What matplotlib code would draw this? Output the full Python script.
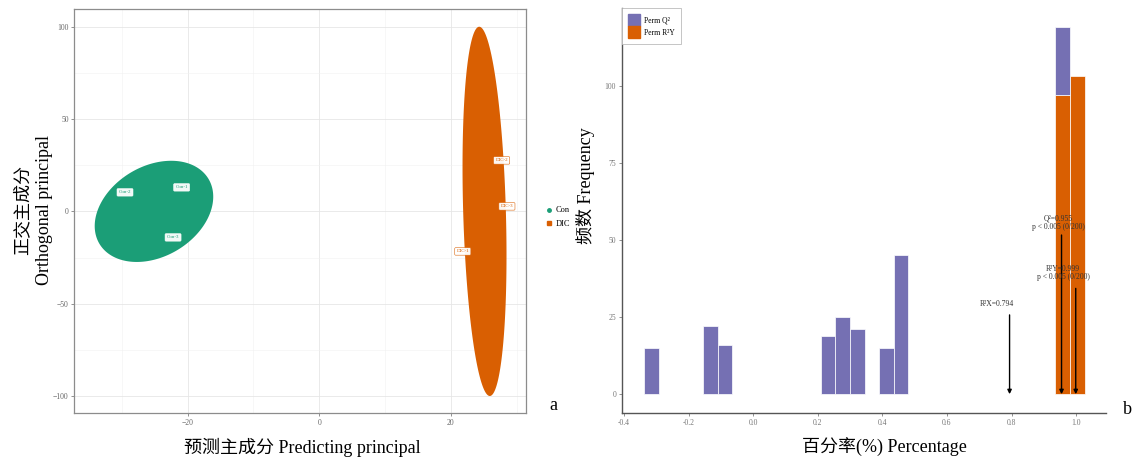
import numpy as np
import matplotlib
matplotlib.use("Agg")
import matplotlib.pyplot as plt
from matplotlib.patches import Patch
from matplotlib.lines import Line2D

plt.rcParams['font.family'] = ['Liberation Serif', 'Noto Sans CJK SC', 'DejaVu Sans']

# ---------------- data ----------------
groups = ["Con", "DIC"]
group_colors = ["#1B9E77", "#D95F02"]
ell_cx = [-25.1, 25.1]
ell_cy = [0.0, 0.0]
ell_ax = [9.0, 3.34]
ell_ay = [27.4, 100.0]
ell_rho = [0.29, -0.24]

sample_names = ["Con-1", "Con-2", "Con-3", "DIC-1", "DIC-2", "DIC-3"]
sample_group = [0, 0, 0, 1, 1, 1]
sample_x = [-20.9, -29.5, -22.2, 21.8, 27.7, 28.5]
sample_y = [13.0, 10.3, -14.1, -21.7, 27.6, 2.7]

left_xticks = [-20, 0, 20]
left_yticks = [-100, -50, 0, 50, 100]

bin_width = 0.0455
q2_centers = [-0.315, -0.133, -0.088, 0.231, 0.276, 0.322, 0.413, 0.458, 0.959]
q2_counts = [15, 22, 16, 19, 25, 21, 15, 45, 22]
r2y_centers = [0.959, 1.004]
r2y_counts = [97, 103]

arrow_x = [0.794, 0.955, 0.999]
arrow_top = [25.7, 51.6, 34.3]
arrow_labels = ["R\u00b2X=0.794", "Q\u00b2=0.955\np < 0.005 (0/200)", "R\u00b2Y=0.999\np < 0.005 (0/200)"]
arrow_label_x = [0.755, 0.946, 0.96]
arrow_label_y = [29.3, 55.5, 39.3]

right_xticks = [-0.4, -0.2, 0.0, 0.2, 0.4, 0.6, 0.8, 1.0]
right_yticks = [0, 25, 50, 75, 100]

purple = "#7570B3"

# ---------------- figure ----------------
W, H = 1135, 459
fig = plt.figure(figsize=(W / 100, H / 100), dpi=100)

def px_axes(x0, y0, x1, y1):
    return fig.add_axes([x0 / W, 1 - y1 / H, (x1 - x0) / W, (y1 - y0) / H])

# ---- left panel ----
ax1 = px_axes(74.3, 9, 526, 413)
ax1.set_xlim(-37.2, 31.4)
ax1.set_ylim(-109.2, 109.6)
ax1.set_xticks(left_xticks)
ax1.set_yticks(left_yticks)
ax1.set_xticks([-30, -10, 10, 30], minor=True)
ax1.set_yticks([-75, -25, 25, 75], minor=True)
ax1.grid(which='major', color='#e6e6e6', lw=0.6)
ax1.grid(which='minor', color='#f1f1f1', lw=0.4)
ax1.set_axisbelow(True)
for s in ax1.spines.values():
    s.set_color('#8c8c8c')
    s.set_linewidth(0.9)
ax1.tick_params(which='major', length=2, width=0.5, color='#666666',
                labelsize=5.5, labelcolor='#666666', pad=2)
ax1.tick_params(which='minor', length=0)

t = np.linspace(0, 2 * np.pi, 300)
for i in range(len(groups)):
    ex = ell_cx[i] + ell_ax[i] * np.cos(t)
    ey = ell_cy[i] + ell_ay[i] * (ell_rho[i] * np.cos(t) + np.sqrt(1 - ell_rho[i] ** 2) * np.sin(t))
    ax1.fill(ex, ey, color=group_colors[i], lw=0, zorder=2)

for name, g, x, y in zip(sample_names, sample_group, sample_x, sample_y):
    c = group_colors[g]
    ax1.text(x, y, name, fontsize=3.6, color=c, ha='center', va='center', zorder=4,
             bbox=dict(boxstyle='round,pad=0.35,rounding_size=0.2', fc='white',
                       ec=c if g == 1 else 'white', lw=0.4, alpha=0.95))

handles = [Line2D([], [], marker='o', ls='none', color=group_colors[0], markersize=2.5),
           Line2D([], [], marker='s', ls='none', color=group_colors[1], markersize=2.5)]
fig.legend(handles, groups, loc='center left', bbox_to_anchor=(537 / W, 1 - 217 / H),
           frameon=False, fontsize=6, handletextpad=0.3, labelspacing=0.6,
           handlelength=1.0)

fig.text(23 / W, 1 - 210 / H, "正交主成分", rotation=90, ha='center', va='center', fontsize=13)
fig.text(44.6 / W, 1 - 210 / H, "Orthogonal principal", rotation=90, ha='center', va='center', fontsize=13)
fig.text(302 / W, 1 - 447 / H, "预测主成分 Predicting principal", ha='center', va='center', fontsize=13)
fig.text(553 / W, 1 - 405 / H, "a", ha='center', va='center', fontsize=13)

# ---- right panel ----
ax2 = px_axes(621.6, 8, 1106.4, 413)
ax2.set_xlim(-0.408, 1.094)
ax2.set_ylim(-6.1, 125.2)

r2y_map = dict(zip(r2y_centers, r2y_counts))
ax2.bar(r2y_centers, r2y_counts, width=bin_width, color="#D95F02",
        edgecolor='white', linewidth=0.5, zorder=2)
q2_bottom = [r2y_map.get(c, 0) for c in q2_centers]
ax2.bar(q2_centers, q2_counts, width=bin_width, bottom=q2_bottom, color=purple,
        edgecolor='white', linewidth=0.5, zorder=2)

for x, top, lab, lx, ly in zip(arrow_x, arrow_top, arrow_labels, arrow_label_x, arrow_label_y):
    ax2.annotate('', xy=(x, 0), xytext=(x, top),
                 arrowprops=dict(arrowstyle='-|>', color='black', lw=1.0,
                                 mutation_scale=6, shrinkA=0, shrinkB=0), zorder=5)
    ax2.text(lx, ly, lab, fontsize=5.5, color='#333333', ha='center', va='center',
             linespacing=1.1, zorder=6)

ax2.set_xticks(right_xticks)
ax2.set_xticklabels([f"{v:.1f}" for v in right_xticks])
ax2.set_yticks(right_yticks)
for side in ['top', 'right']:
    ax2.spines[side].set_visible(False)
for side in ['left', 'bottom']:
    ax2.spines[side].set_color('#555555')
    ax2.spines[side].set_linewidth(1.0)
ax2.tick_params(length=2, width=0.5, color='#666666', labelsize=5.5,
                labelcolor='#777777', pad=2)

leg = ax2.legend([Patch(color=purple), Patch(color="#D95F02")],
                 ["Perm Q\u00b2", "Perm R\u00b2Y"], loc='upper left',
                 bbox_to_anchor=(0.0, 1.0), borderaxespad=0.05, fontsize=5.5,
                 fancybox=False, framealpha=1, edgecolor='#bbbbbb',
                 handlelength=1.6, handleheight=2.0, handletextpad=0.5,
                 labelspacing=0.0, borderpad=0.8)
leg.get_frame().set_linewidth(0.6)

fig.text(585.7 / W, 1 - 186 / H, "频数 Frequency", rotation=90, ha='center', va='center', fontsize=13)
fig.text(884.5 / W, 1 - 447 / H, "百分率(%) Percentage", ha='center', va='center', fontsize=13)
fig.text(1127 / W, 1 - 410 / H, "b", ha='center', va='center', fontsize=13)

fig.savefig("out.png", dpi=100)
